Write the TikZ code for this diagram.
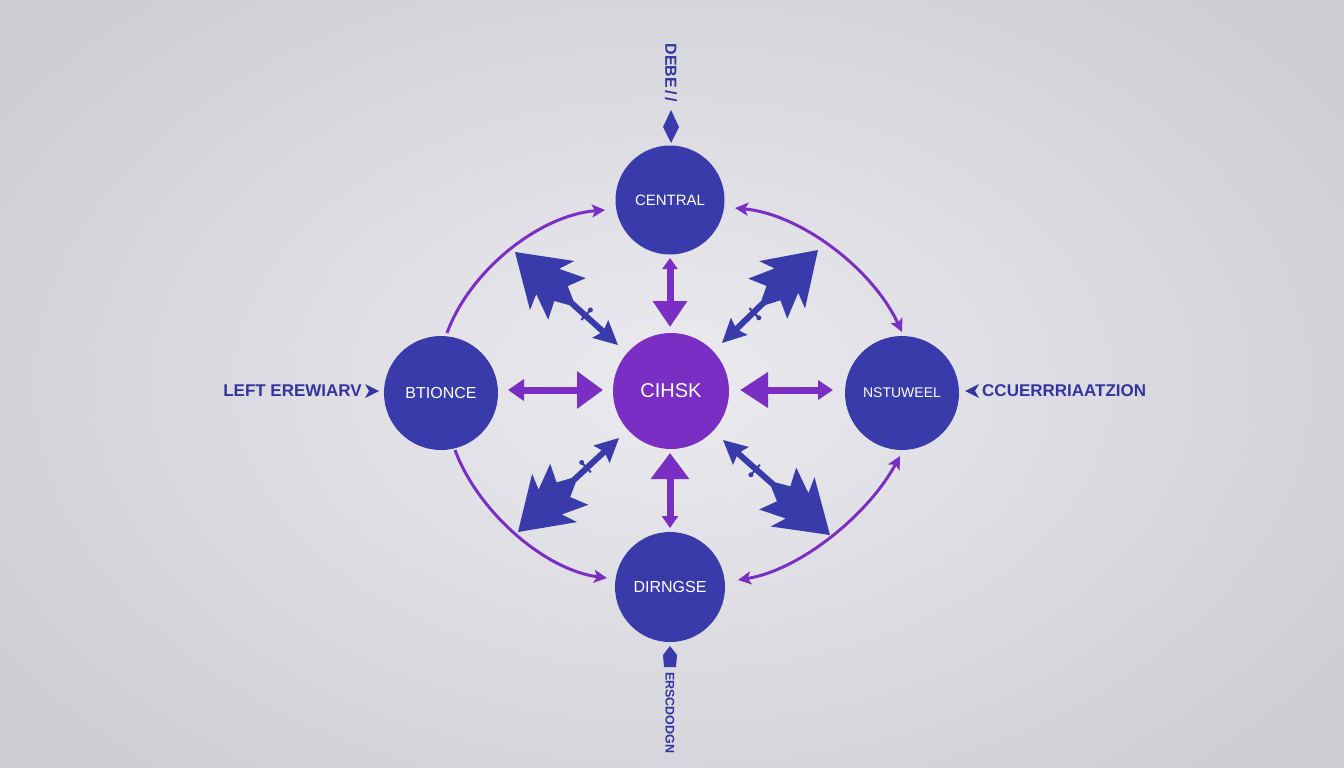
\documentclass[tikz,border=0pt]{standalone}
\usepackage{fontspec}
\setmainfont{Liberation Sans}
\usetikzlibrary{arrows.meta,calc}
\definecolor{nblue}{HTML}{3A3BAA}
\definecolor{npurp}{HTML}{7A2EC4}
\definecolor{tblue}{HTML}{3434A0}
\definecolor{bgin}{HTML}{EAEAEF}
\definecolor{bgout}{HTML}{CDCDD4}
% point at distance #3 from #1 towards #2, offset #4 sideways
\newcommand\apt[4]{($(#1)!#3pt!(#2)!#4pt!90:(#2)$)}
\newcommand\bpt[4]{($(#1)!#3pt!(#2)!#4pt!-90:(#2)$)}
% same, measured from the small tip #2 back towards #1
\newcommand\asp[4]{($(#2)!#3pt!(#1)!#4pt!-90:(#1)$)}
\newcommand\bsp[4]{($(#2)!#3pt!(#1)!#4pt!90:(#1)$)}
\newcommand\treearrow[2]{%
  \fill[nblue] (#1) -- \apt{#1}{#2}{50}{33} -- \apt{#1}{#2}{44}{17} -- \apt{#1}{#2}{70}{28}
    -- \apt{#1}{#2}{62}{10} -- \apt{#1}{#2}{76}{3} -- \asp{#1}{#2}{21}{3} -- \asp{#1}{#2}{24}{12}
    -- (#2) -- \bsp{#1}{#2}{24}{12} -- \bsp{#1}{#2}{21}{3} -- \bpt{#1}{#2}{76}{3}
    -- \bpt{#1}{#2}{62}{10} -- \bpt{#1}{#2}{70}{28} -- \bpt{#1}{#2}{44}{17} -- \bpt{#1}{#2}{50}{33} -- cycle;
  \draw[nblue, line width=2pt] \asp{#1}{#2}{44}{6} -- \bsp{#1}{#2}{44}{6};
  \fill[nblue] \asp{#1}{#2}{44}{7.5} circle (2.5pt);
}
\tikzset{
  circnode/.style={circle, fill=nblue, text=white, inner sep=0pt, minimum size=#1},
  purpline/.style={npurp, line width=7pt},
  arcline/.style={npurp, line width=3pt},
  arctip/.tip={Stealth[length=13pt,width=13pt,inset=3pt]},
  sidelabel/.style={text=tblue, font=\bfseries\fontsize{17}{17}\selectfont, inner sep=0pt},
  vlabel/.style={text=tblue, font=\bfseries\fontsize{14}{14}\selectfont, inner sep=0pt},
}
\begin{document}
\begin{tikzpicture}[x=1pt,y=-1pt]
\useasboundingbox (0,0) rectangle (1344,768);
\shade[inner color=bgin, outer color=bgout] (-150,-150) rectangle (1494,918);

% nodes
\node[circnode=109pt, font=\fontsize{15}{15}\selectfont] (central) at (670,200) {CENTRAL};
\node[circnode=116pt, fill=npurp, font=\fontsize{20}{20}\selectfont] (cihsk) at (671,391) {CIHSK};
\node[circnode=114pt, font=\fontsize{16}{16}\selectfont] (left) at (441,393) {BTIONCE};
\node[circnode=114pt, font=\fontsize{14}{14}\selectfont] (right) at (902,393) {NSTUWEEL};
\node[circnode=110pt, font=\fontsize{16}{16}\selectfont] (bottom) at (670,587) {DIRNGSE};

% straight purple double arrows
\coordinate (t1) at (670,258); \coordinate (t2) at (670,327);
\draw[purpline, {Triangle[length=11pt,width=15pt]}-{Triangle[length=26pt,width=33pt]}] (t1) -- (t2);
\coordinate (b1) at (670,453); \coordinate (b2) at (670,528);
\draw[purpline, {Triangle[length=26pt,width=37pt]}-{Triangle[length=12pt,width=16pt]}] (b1) -- (b2);
\coordinate (l1) at (508,390); \coordinate (l2) at (603,390);
\draw[purpline, {Triangle[length=16pt,width=21pt]}-{Triangle[length=26pt,width=36pt]}] (l1) -- (l2);
\coordinate (r1) at (740,390); \coordinate (r2) at (833,390);
\draw[purpline, {Triangle[length=28pt,width=34pt]}-{Triangle[length=15pt,width=19pt]}] (r1) -- (r2);

% diagonal tree arrows
\coordinate (tlA) at (515,252); \coordinate (tlB) at (618,345);
\coordinate (trA) at (818,250); \coordinate (trB) at (722,343);
\coordinate (blA) at (518,532); \coordinate (blB) at (619,438);
\coordinate (brA) at (830,535); \coordinate (brB) at (723,440);
\treearrow{tlA}{tlB}
\treearrow{trA}{trB}
\treearrow{blA}{blB}
\treearrow{brA}{brB}

% curved arcs
\coordinate (a1) at (447,333); \coordinate (a2) at (605,210);
\draw[arcline, -arctip] (a1) .. controls (470,270) and (540,215) .. (a2);
\coordinate (a3) at (735,208); \coordinate (a4) at (902,332);
\draw[arcline, arctip-arctip] (a3) .. controls (800,214) and (872,268) .. (a4);
\coordinate (a5) at (455,450); \coordinate (a6) at (607,578);
\draw[arcline, -arctip] (a5) .. controls (478,512) and (545,570) .. (a6);
\coordinate (a7) at (738,580); \coordinate (a8) at (900,456);
\draw[arcline, arctip-arctip] (a7) .. controls (800,570) and (868,515) .. (a8);

% side labels
\node[sidelabel, anchor=east] (llab) at (362,391) {LEFT EREWIARV};
\fill[tblue] (365,384) -- (379,391) -- (365,398) -- (369,391) -- cycle;
\node[sidelabel, anchor=west] (rlab) at (982,391) {CCUERRRIAATZION};
\fill[tblue] (979,384) -- (965,391) -- (979,398) -- (975,391) -- cycle;

% top decoration
\node[vlabel, rotate=-90, font=\bfseries\fontsize{16}{16}\selectfont] (toplab) at (671,73) {DEBE\,/\,/};
\fill[nblue] (671,110) -- (679,127) -- (671,143) -- (663,127) -- cycle;

% bottom decoration
\fill[nblue] (670,646) -- (677,655) -- (676,667) -- (664,667) -- (663,655) -- cycle;
\node[vlabel, rotate=-90, font=\bfseries\fontsize{12.5}{12.5}\selectfont, anchor=west] (botlab) at (670,672) {ERSCDODGN};
\end{tikzpicture}
\end{document}
